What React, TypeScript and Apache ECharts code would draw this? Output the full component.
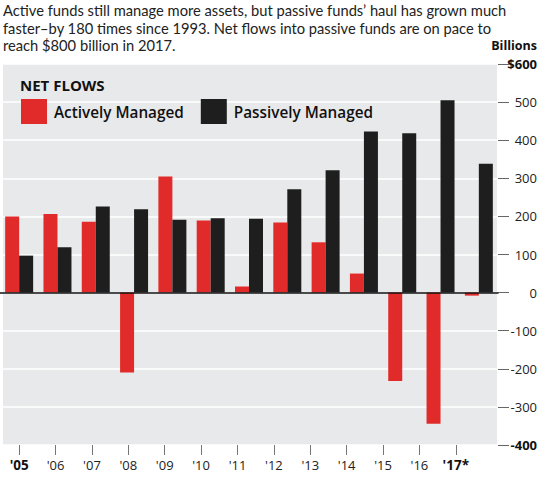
import React, { useEffect, useRef } from 'react';
import * as echarts from 'echarts';

const categories = ["'05", "'06", "'07", "'08", "'09", "'10", "'11", "'12", "'13", "'14", "'15", "'16", "'17*"];
const activelyManaged = [200, 206, 186, -210, 305, 189, 16, 184, 132, 50, -232, -344, -8];
const passivelyManaged = [97, 119, 226, 219, 191, 195, 194, 271, 321, 423, 418, 505, 338];
const seriesNames = ['Actively Managed', 'Passively Managed'];
const yMin = -400;
const yMax = 600;
const yInterval = 100;
const headline =
  "Active funds still manage more assets, but passive funds\u2019 haul has grown much\nfaster\u2013by 180 times since 1993. Net flows into passive funds are on pace to\nreach $800 billion in 2017.";

const FONT = "'Open Sans', 'Noto Sans', sans-serif";
const TITLE_FONT = "Lato, 'Open Sans', sans-serif";

export default function App() {
  const ref = useRef<HTMLDivElement>(null);
  useEffect(() => {
    const chart = echarts.init(ref.current!, null, { renderer: 'svg' });
    const last = categories.length - 1;
    chart.setOption({
      animation: false,
      backgroundColor: '#ffffff',
      textStyle: { fontFamily: FONT },
      title: {
        text: headline,
        left: 3,
        top: 1,
        padding: 0,
        textStyle: { fontFamily: TITLE_FONT, fontSize: 14.7, fontWeight: 'normal', color: '#222', lineHeight: 17.7 },
      },
      legend: {
        data: seriesNames,
        left: 21,
        top: 99,
        padding: 0,
        itemWidth: 26,
        itemHeight: 25,
        itemGap: 17,
        icon: 'rect',
        textStyle: { fontFamily: FONT, fontSize: 15.3, fontWeight: 600, color: '#111', padding: [0, 0, 0, 2] },
      },
      grid: [
        { left: -2, width: 500, top: 64, height: 381, show: false },
        { left: 1, width: 473, top: 64, height: 381, show: false },
      ],
      xAxis: [
        {
          type: 'category',
          gridIndex: 0,
          data: categories,
          z: 5,
          axisLine: { onZero: true, lineStyle: { color: '#111', width: 1.5 } },
          axisTick: { show: false },
          axisLabel: { show: false },
          splitLine: { show: false },
        },
        {
          type: 'category',
          gridIndex: 1,
          data: categories,
          position: 'bottom',
          axisLine: { show: false, onZero: false },
          axisTick: { show: true, alignWithLabel: true, interval: 0, length: 10, lineStyle: { color: '#777' } },
          axisLabel: {
            interval: 0,
            margin: 13,
            fontSize: 13,
            color: '#222',
            fontFamily: FONT,
            formatter: (v: string, i: number) => (i === 0 || i === last ? `{b|${v}}` : v),
            rich: { b: { fontWeight: 'bold', fontSize: 13.5, color: '#111', fontFamily: FONT } },
          },
          splitLine: { show: false },
        },
      ],
      yAxis: [
        {
          type: 'value',
          gridIndex: 0,
          position: 'right',
          min: yMin,
          max: yMax,
          interval: yInterval,
          axisLine: { show: false },
          axisTick: { show: true, length: 11, lineStyle: { color: '#666' } },
          splitLine: { show: true, lineStyle: { color: '#ffffff', width: 1.5 } },
          axisLabel: {
            align: 'right',
            margin: 39,
            fontSize: 13,
            color: '#222',
            fontFamily: FONT,
            formatter: (v: number) => (v === yMax ? `{b|$${v}}` : v === yMin ? `{b|${v}}` : `${v}`),
            rich: { b: { fontWeight: 'bold', fontSize: 13, color: '#111', fontFamily: FONT } },
          },
        },
        { type: 'value', gridIndex: 1, show: false, min: yMin, max: yMax, interval: yInterval },
      ],
      series: [
        {
          name: seriesNames[0],
          type: 'bar',
          xAxisIndex: 0,
          yAxisIndex: 0,
          data: activelyManaged,
          barWidth: 14,
          barGap: '0%',
          itemStyle: { color: '#e12b2b' },
        },
        {
          name: seriesNames[1],
          type: 'bar',
          xAxisIndex: 0,
          yAxisIndex: 0,
          data: passivelyManaged,
          barWidth: 14,
          barGap: '0%',
          itemStyle: { color: '#1e1e1e' },
        },
      ],
      graphic: [
        {
          type: 'rect',
          z: -10,
          silent: true,
          shape: { x: 3, y: 64, width: 494, height: 381 },
          style: { fill: '#e8e9ea' },
        },
        {
          type: 'text',
          left: 20,
          top: 77,
          style: { text: 'NET FLOWS', font: `bold 15px ${FONT}`, fill: '#111' },
        },
        {
          type: 'text',
          right: 9,
          top: 39,
          style: { text: 'Billions', font: `bold 12.5px ${FONT}`, fill: '#111' },
        },
      ],
    });
    return () => chart.dispose();
  }, []);
  return <div ref={ref} style={{ width: 546, height: 479, position: 'absolute', left: 0, top: 0 }} />;
}
